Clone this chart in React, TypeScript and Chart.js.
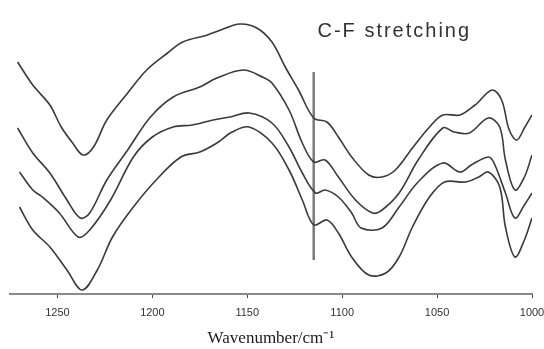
import { useEffect, useRef } from "react";
import { Chart, registerables } from "chart.js";

Chart.register(...registerables);

// Wavenumbers (cm^-1) and relative transmittance for each spectrum (top to bottom)
const wavenumbers1 = [1271, 1263, 1254, 1248, 1242, 1236.5, 1231, 1224, 1213, 1203, 1192, 1184, 1171, 1164, 1154, 1145, 1137, 1130, 1123, 1115, 1108, 1102, 1095, 1086, 1079, 1072, 1063, 1054, 1047, 1038, 1030, 1021, 1016, 1012, 1008, 1004, 1000];
const spectrum1 = [232, 209, 189, 167, 151, 139, 147, 174, 201, 224, 241, 252, 259, 264, 270, 266, 252, 227, 204, 176, 172, 157, 137, 119, 117, 124, 146, 167, 179, 179, 189, 204, 194, 164, 154, 166, 179];

const wavenumbers2 = [1271, 1263, 1254, 1245, 1238, 1233, 1224, 1213, 1201, 1189, 1175, 1166, 1152, 1142, 1137, 1128, 1121, 1115, 1109, 1102, 1093, 1084, 1079, 1070, 1060, 1047, 1041, 1033, 1023, 1017, 1014, 1009, 1004, 1000];
const spectrum2 = [166, 141, 121, 94, 76, 81, 114, 144, 177, 197, 207, 216, 224, 217, 211, 184, 151, 132, 134, 117, 94, 81, 84, 101, 134, 166, 162, 161, 176, 167, 134, 104, 117, 139];

const wavenumbers3 = [1270, 1263, 1258, 1249, 1239, 1233, 1222, 1210, 1200, 1189, 1179, 1168, 1159, 1149, 1137, 1128, 1121, 1114, 1109, 1102, 1095, 1090, 1079, 1070, 1060, 1047, 1038, 1032, 1023, 1020, 1014, 1009, 1004, 1000];
const spectrum3 = [122, 104, 97, 81, 57, 64, 94, 137, 157, 167, 169, 174, 177, 181, 171, 147, 121, 101, 104, 97, 81, 66, 66, 87, 112, 131, 122, 129, 137, 131, 101, 76, 89, 101];

const wavenumbers4 = [1270, 1263, 1254, 1245, 1237, 1229, 1221, 1210, 1198, 1185, 1175, 1166, 1158, 1149, 1137, 1128, 1121, 1115, 1108, 1102, 1095, 1086, 1077, 1070, 1063, 1054, 1046, 1035, 1028, 1023, 1017, 1014, 1009, 1004, 1000];
const spectrum4 = [87, 64, 47, 24, 4, 24, 57, 87, 114, 137, 142, 151, 162, 167, 151, 124, 94, 69, 74, 61, 37, 19, 21, 37, 67, 97, 112, 112, 117, 122, 107, 67, 37, 54, 76];

// Vertical marker for the C-F stretching band
const markerWavenumbers = [1115, 1115];
const markerValues = [34, 222];

const tickValues = [1250, 1200, 1150, 1100, 1050, 1000];
const xMin = 1000;
const xMax = 1275;
const yMin = 0;
const yMax = 284;

const annotationText = "C-F stretching";
const annotationX = 1113;
const annotationY = 257;
const axisTitle = "Wavenumber/cm\u207B\u00B9";

const toPoints = (xs: number[], ys: number[]) => xs.map((x, i) => ({ x, y: ys[i] }));

const annotationPlugin = {
  id: "cfLabel",
  afterDatasetsDraw(chart: any) {
    const { ctx, scales } = chart;
    const px = scales.x.getPixelForValue(annotationX);
    const py = scales.y.getPixelForValue(annotationY);
    ctx.save();
    ctx.font = '20px "Liberation Sans", Arial, sans-serif';
    (ctx as any).letterSpacing = "2px";
    ctx.fillStyle = "#333333";
    ctx.textAlign = "left";
    ctx.textBaseline = "alphabetic";
    ctx.fillText(annotationText, px, py);
    ctx.restore();
  },
};

export default function App() {
  const canvasRef = useRef<HTMLCanvasElement | null>(null);

  useEffect(() => {
    if (!canvasRef.current) return;
    const lineStyle = {
      borderColor: "#3a3a3a",
      borderWidth: 1.6,
      pointRadius: 0,
      tension: 0.35,
      fill: false,
    };
    const chart = new Chart(canvasRef.current, {
      type: "line",
      data: {
        datasets: [
          { ...lineStyle, data: toPoints(wavenumbers1, spectrum1) },
          { ...lineStyle, data: toPoints(wavenumbers2, spectrum2) },
          { ...lineStyle, data: toPoints(wavenumbers3, spectrum3) },
          { ...lineStyle, data: toPoints(wavenumbers4, spectrum4) },
          {
            data: toPoints(markerWavenumbers, markerValues),
            borderColor: "#7a7a7a",
            borderWidth: 2.5,
            pointRadius: 0,
            tension: 0,
            fill: false,
          },
        ],
      },
      options: {
        responsive: false,
        animation: false,
        events: [],
        layout: { padding: { left: 10, right: 12, top: 10, bottom: 0 } },
        plugins: {
          legend: { display: false },
          tooltip: { enabled: false },
          title: { display: false },
        },
        scales: {
          x: {
            type: "linear",
            reverse: true,
            min: xMin,
            max: xMax,
            afterBuildTicks: (scale: any) => {
              scale.ticks = tickValues.map((v) => ({ value: v }));
            },
            afterFit: (scale: any) => {
              scale.height = 55;
              scale.paddingLeft = 0;
              scale.paddingRight = 0;
            },
            grid: {
              display: true,
              drawOnChartArea: false,
              drawTicks: true,
              tickLength: 4,
              color: "#444444",
              lineWidth: 1,
            },
            border: { display: true, color: "#8a8a8a", width: 2 },
            ticks: {
              autoSkip: false,
              maxRotation: 0,
              padding: 8.5,
              color: "#333333",
              font: { family: '"Liberation Sans", Arial, sans-serif', size: 11 },
              callback: (v: any) => String(v),
            },
            title: {
              display: true,
              text: axisTitle,
              color: "#1a1a1a",
              font: { family: '"Liberation Serif", "Times New Roman", serif', size: 17 },
              padding: { top: 0, bottom: 0 },
            },
          },
          y: {
            display: false,
            min: yMin,
            max: yMax,
          },
        },
      },
      plugins: [annotationPlugin],
    });
    return () => chart.destroy();
  }, []);

  return (
    <canvas
      ref={canvasRef}
      width={544}
      height={349}
      style={{ position: "fixed", left: 0, top: 0, display: "block", background: "#ffffff" }}
    />
  );
}
